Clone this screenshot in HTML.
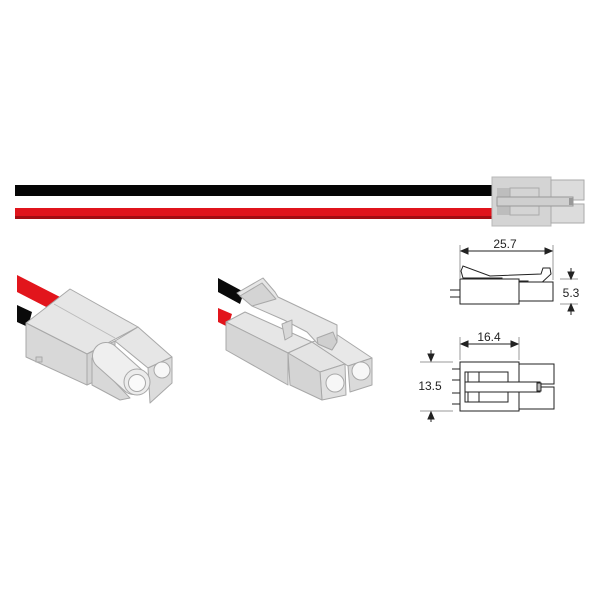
<!DOCTYPE html>
<html><head><meta charset="utf-8"><style>html,body{margin:0;padding:0;background:#fff}svg{display:block}</style></head>
<body>
<svg width="600" height="600" viewBox="0 0 600 600" xmlns="http://www.w3.org/2000/svg" font-family="Liberation Sans, sans-serif">
<!-- top wires -->
<rect x="15" y="185" width="480" height="11" fill="#050505"/>
<rect x="15" y="208" width="480" height="11" fill="#e0141c"/>
<rect x="15" y="216" width="480" height="3" fill="#a30d12"/>
<!-- top connector -->
<rect x="492" y="177" width="59" height="49" fill="#d4d4d4" stroke="#b8b8b8"/>
<rect x="551" y="180" width="33" height="20" fill="#dcdcdc" stroke="#aaa"/>
<rect x="551" y="204" width="33" height="19" fill="#dcdcdc" stroke="#aaa"/>
<rect x="497" y="188" width="13" height="9" fill="#bdbdbd"/>
<rect x="497" y="206" width="13" height="9" fill="#bdbdbd"/>
<rect x="510" y="188" width="29" height="9" fill="none" stroke="#aaa"/>
<rect x="510" y="206" width="29" height="9" fill="none" stroke="#aaa"/>
<rect x="497" y="197" width="76" height="9" fill="#cfcfcf" stroke="#999"/>
<rect x="569" y="198" width="4" height="7" fill="#999"/>

<!-- side view dims -->
<g stroke="#222" fill="none" stroke-width="1">
<line x1="460" y1="245" x2="460" y2="278" stroke="#999"/>
<line x1="553" y1="245" x2="553" y2="280" stroke="#999"/>
<line x1="462" y1="251" x2="551" y2="251"/>
<path d="M461 251 l7 -3 v6z M552 251 l-7 -3 v6z" fill="#222"/>
<path d="M461 271 L463 266 L490 276 L541 274 L543 268 L550 268 L551 274 L537 287 L527 287 L528 281 L502 281 L502 278 L463 278 Z" fill="#fff"/>
<rect x="460" y="279" width="59" height="25" fill="#fff"/>
<rect x="519" y="282" width="34" height="19" fill="#fff"/>
<line x1="450" y1="290" x2="460" y2="290"/>
<line x1="450" y1="297" x2="460" y2="297"/>
<line x1="560" y1="279" x2="578" y2="279" stroke="#999"/>
<line x1="560" y1="304" x2="578" y2="304" stroke="#999"/>
<line x1="571" y1="268" x2="571" y2="278"/>
<line x1="571" y1="305" x2="571" y2="315"/>
<path d="M571 279 l-3 -7 h6z M571 304 l-3 7 h6z" fill="#222"/>
</g>
<text x="505" y="248" font-size="12" text-anchor="middle" fill="#222">25.7</text>
<text x="571" y="297" font-size="12" text-anchor="middle" fill="#222">5.3</text>

<!-- bottom view -->
<g stroke="#222" fill="none" stroke-width="1">
<line x1="460" y1="337" x2="460" y2="360" stroke="#999"/>
<line x1="519" y1="337" x2="519" y2="360" stroke="#999"/>
<line x1="461" y1="344" x2="518" y2="344"/>
<path d="M461 344 l7 -3 v6z M518 344 l-7 -3 v6z" fill="#222"/>
<rect x="460" y="362" width="59" height="49" fill="#fff"/>
<rect x="519" y="364" width="35" height="20"/>
<rect x="519" y="387" width="35" height="22"/>
<line x1="465" y1="372" x2="465" y2="402"/>
<line x1="468" y1="372" x2="468" y2="402"/>
<rect x="465" y="372" width="43" height="10"/>
<rect x="465" y="392" width="43" height="10"/>
<line x1="479" y1="372" x2="479" y2="382"/>
<line x1="479" y1="392" x2="479" y2="402"/>
<rect x="465" y="382" width="75" height="10" fill="#fff"/>
<rect x="537" y="383" width="4" height="8" fill="#bbb"/>
<line x1="452" y1="369" x2="460" y2="369"/>
<line x1="452" y1="380" x2="460" y2="380"/>
<line x1="452" y1="393" x2="460" y2="393"/>
<line x1="452" y1="404" x2="460" y2="404"/>
<line x1="420" y1="362" x2="453" y2="362" stroke="#999"/>
<line x1="420" y1="411" x2="453" y2="411" stroke="#999"/>
<line x1="431" y1="350" x2="431" y2="360"/>
<line x1="431" y1="413" x2="431" y2="422"/>
<path d="M431 361 l-3 -7 h6z M431 412 l-3 7 h6z" fill="#222"/>
</g>
<text x="489" y="341" font-size="12" text-anchor="middle" fill="#222">16.4</text>
<text x="430" y="390" font-size="12" text-anchor="middle" fill="#222">13.5</text>

<!-- left 3D connector -->
<g stroke="#a8a8a8" stroke-width="1" stroke-linejoin="round">
<path d="M17 275 L62 298 L56 312 L17 292 Z" fill="#e2151c" stroke="none"/>
<path d="M17 305 L32 312 L28 327 L17 322 Z" fill="#0a0a0a" stroke="none"/>
<path d="M26 323 L70 289 L138 327 L87 354 Z" fill="#e6e6e6"/>
<path d="M26 323 L87 354 L87 385 L26 357 Z" fill="#d8d8d8"/>
<line x1="54" y1="304" x2="115" y2="338" stroke="#bbb"/>
<path d="M115 341 L138 327 L172 357 L148 368 Z" fill="#e6e6e6"/>
<path d="M148 368 L172 357 L172 383 L150 403 Z" fill="#dcdcdc"/>
<path d="M87 354 L115 341 L115 372 L87 385 Z" fill="#d2d2d2"/>
<path d="M92 385 L92 358 L130 398 L120 400 Z" fill="#d8d8d8"/>
<line x1="106" y1="356" x2="134" y2="381" stroke="#a8a8a8" stroke-width="28" stroke-linecap="round"/>
<line x1="106" y1="356" x2="134" y2="381" stroke="#efefef" stroke-width="26" stroke-linecap="round"/>
<circle cx="137" cy="382" r="13" fill="#ececec"/>
<circle cx="137" cy="383" r="8.5" fill="#fafafa"/>
<circle cx="162" cy="370" r="8" fill="#f7f7f7"/>
<rect x="36" y="357" width="6" height="5" fill="#cfcfcf"/>
</g>

<!-- right 3D connector -->
<g stroke="#a8a8a8" stroke-width="1" stroke-linejoin="round">
<path d="M218 278 L244 292 L240 304 L218 292 Z" fill="#0a0a0a" stroke="none"/>
<path d="M218 308 L232 314 L228 327 L218 322 Z" fill="#e2151c" stroke="none"/>
<path d="M226 322 L245 312 L312 342 L288 353 Z" fill="#e6e6e6"/>
<path d="M226 322 L288 353 L288 385 L226 350 Z" fill="#d6d6d6"/>
<path d="M288 353 L312 342 L345 364 L320 372 Z" fill="#e4e4e4"/>
<path d="M312 342 L336 334 L372 358 L348 366 Z" fill="#e8e8e8"/>
<path d="M320 372 L345 364 L346 395 L322 400 Z" fill="#e0e0e0"/>
<path d="M288 353 L320 372 L322 400 L290 385 Z" fill="#d4d4d4"/>
<path d="M348 366 L372 358 L372 385 L350 392 Z" fill="#dadada"/>
<circle cx="335" cy="383" r="9" fill="#f7f7f7"/>
<circle cx="361" cy="371" r="9" fill="#f7f7f7"/>
<path d="M237 293 L263 278 L275 292 L278 297 L337 325 L337 342 L332 350 L318 344 L307 332 L284 320 L252 306 Z" fill="#e6e6e6"/>
<path d="M240 296 L262 283 L276 299 L252 306 Z" fill="#d4d4d4"/>
<path d="M282 324 L292 320 L292 336 L285 340 Z" fill="#d8d8d8"/>
<path d="M317 338 L333 332 L337 342 L332 350 L318 344 Z" fill="#cfcfcf"/>
</g>
</svg>
</body></html>
